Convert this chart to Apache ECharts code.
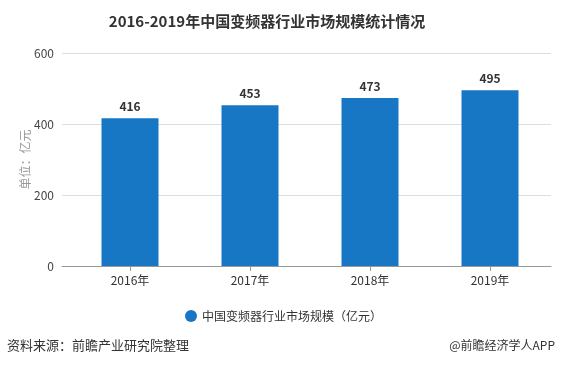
<!DOCTYPE html>
<html><head><meta charset="utf-8">
<script src="https://cdn.jsdelivr.net/npm/echarts@6/dist/echarts.min.js"></script>
<style>html,body{margin:0;padding:0;background:#fff}#c{width:561px;height:366px}</style>
</head><body><div id="c"></div>
<script>
const categories = ['2016年', '2017年', '2018年', '2019年'];
const marketSize = [416, 453, 473, 495];
const yTicks = [0, 200, 400, 600];
const seriesName = '中国变频器行业市场规模（亿元）';

const font = '"Noto Sans CJK SC", "Noto Sans", sans-serif';
const chart = echarts.init(document.getElementById('c'));
chart.setOption({
  backgroundColor: '#fff',
  textStyle: { fontFamily: font },
  title: [{
    text: '2016-2019年中国变频器行业市场规模统计情况',
    left: 262, top: 9, textAlign: 'center',
    textStyle: { fontSize: 15, fontWeight: 'bold', color: '#333', fontFamily: font }
  }],
  graphic: [
    { type: 'text', left: 7, top: 339, style: { text: '资料来源：前瞻产业研究院整理', fontSize: 13, fill: '#333', fontFamily: font } },
    { type: 'text', right: 6, top: 339, style: { text: '@前瞻经济学人APP', fontSize: 12, fill: '#333', fontFamily: font } }
  ],
  legend: {
    data: [seriesName], left: 180, top: 305, icon: 'circle', itemWidth: 12, itemHeight: 12, itemGap: 6,
    textStyle: { fontSize: 12, color: '#333', fontFamily: font }
  },
  grid: [
    { left: 62, right: 10, top: 53, bottom: 100 },
    { left: 70, right: 11, top: 53, bottom: 100 }
  ],
  xAxis: [
    { type: 'value', gridIndex: 0, min: 0, max: 1, show: true, axisLabel: { show: false }, axisTick: { show: false }, splitLine: { show: false },
      axisLine: { show: true, lineStyle: { color: '#999' } } },
    { type: 'category', gridIndex: 1, data: categories,
      axisLine: { show: false },
      axisTick: { show: true, alignWithLabel: true, length: 5, lineStyle: { color: '#999' } },
      axisLabel: { fontSize: 12, color: '#333', margin: 8, fontFamily: font } }
  ],
  yAxis: [
    { type: 'value', gridIndex: 0, min: 0, max: 600, interval: 200,
      name: '单位：亿元', nameLocation: 'middle', nameGap: 31, nameRotate: 90, nameMoveOverlap: false,
      nameTextStyle: { fontSize: 12, color: '#999', fontFamily: font },
      axisLine: { show: false }, axisTick: { show: false },
      axisLabel: { fontSize: 12, color: '#444', margin: 8, fontFamily: font },
      splitLine: { lineStyle: { color: '#ddd' } } },
    { type: 'value', gridIndex: 1, min: 0, max: 600, interval: 200, show: false }
  ],
  series: [{
    name: seriesName, type: 'bar', xAxisIndex: 1, yAxisIndex: 1,
    data: marketSize, barWidth: 57,
    itemStyle: { color: '#1877c5' },
    label: { show: true, position: 'top', distance: 6, fontSize: 12, fontWeight: 'bold', color: '#333', fontFamily: font }
  }]
});
</script></body></html>
